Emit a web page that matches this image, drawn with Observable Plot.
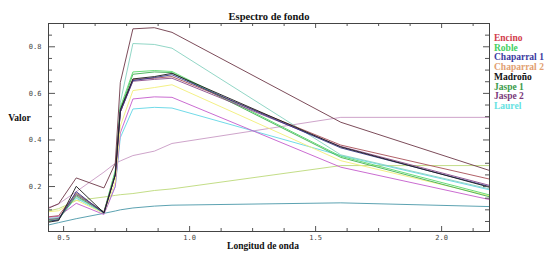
<!DOCTYPE html>
<html><head><meta charset="utf-8">
<script src="https://cdn.jsdelivr.net/npm/d3@7"></script>
<script src="https://cdn.jsdelivr.net/npm/@observablehq/plot@0.6"></script>
<style>body{margin:0;background:#fff} #c{width:550px;height:261px}</style>
</head><body><div id="c"></div><script>
// wavelength (µm) at which each spectrum is sampled
const wavelengths = [0.44, 0.48, 0.55, 0.66, 0.705, 0.725, 0.775, 0.86, 0.93, 1.6, 2.19];

// spectra (Valor)
const espTopMaroon  = [0.107, 0.126, 0.237, 0.194, 0.30, 0.647, 0.877, 0.882, 0.862, 0.476, 0.269];
const espTealLight  = [0.062, 0.066, 0.155, 0.088, 0.26, 0.56, 0.814, 0.81, 0.794, 0.336, 0.19];
const espRoble      = [0.056, 0.062, 0.168, 0.092, 0.27, 0.54, 0.692, 0.698, 0.694, 0.33, 0.164];
const espJaspe1     = [0.052, 0.058, 0.16, 0.088, 0.26, 0.53, 0.682, 0.692, 0.689, 0.325, 0.156];
const espBrown      = [0.07, 0.075, 0.172, 0.09, 0.25, 0.52, 0.66, 0.665, 0.672, 0.378, 0.232];
const espJaspe2     = [0.058, 0.063, 0.165, 0.09, 0.25, 0.52, 0.652, 0.66, 0.665, 0.372, 0.205];
const espChaparral1 = [0.05, 0.057, 0.178, 0.085, 0.25, 0.52, 0.655, 0.668, 0.68, 0.366, 0.2];
const espMadrono    = [0.047, 0.054, 0.201, 0.087, 0.25, 0.53, 0.662, 0.672, 0.686, 0.37, 0.197];
const espYellow     = [0.092, 0.096, 0.142, 0.085, 0.22, 0.46, 0.612, 0.625, 0.637, 0.311, 0.16];
const espMagenta    = [0.068, 0.072, 0.128, 0.08, 0.2, 0.43, 0.576, 0.585, 0.583, 0.283, 0.144];
const espCyan       = [0.062, 0.066, 0.15, 0.085, 0.2, 0.41, 0.533, 0.54, 0.537, 0.333, 0.186];
const espMauve      = [0.11, 0.125, 0.178, 0.262, 0.3, 0.31, 0.333, 0.352, 0.385, 0.497, 0.497];
const espYellowGreen= [0.095, 0.105, 0.14, 0.155, 0.162, 0.165, 0.17, 0.183, 0.19, 0.29, 0.29];
const espTealBlue   = [0.035, 0.045, 0.062, 0.085, 0.095, 0.1, 0.108, 0.116, 0.12, 0.13, 0.114];

const seriesValues = [espMauve, espYellowGreen, espTealBlue, espCyan, espMagenta, espYellow,
  espTealLight, espJaspe1, espRoble, espBrown, espJaspe2, espChaparral1, espMadrono, espTopMaroon];
const seriesColors = ["#c99ac4", "#bcd97a", "#4a98a8", "#62d6e6", "#c45ccc", "#f2ee78",
  "#86d2c0", "#3fae52", "#58d86a", "#a85058", "#8a4a8a", "#34348a", "#1a1a1a", "#6e3848"];

const legendNames = ["Encino", "Roble", "Chaparral 1", "Chaparral 2", "Madroño", "Jaspe 1", "Jaspe 2", "Laurel"];
const legendColors = ["#d23c4c", "#44d060", "#3a3aa0", "#e2a070", "#111111", "#3a9a4a", "#7a3a7a", "#66e2e2"];

const xMajor = [0.5, 1.0, 1.5, 2.0];
const xMinor = [0.625, 0.75, 0.875, 1.125, 1.25, 1.375, 1.625, 1.75, 1.875, 2.125];
const yMajor = [0.2, 0.4, 0.6, 0.8];
const yMinor = [0.05, 0.1, 0.15, 0.25, 0.3, 0.35, 0.45, 0.5, 0.55, 0.65, 0.7, 0.75, 0.85];

const W = 550, H = 261, mL = 48, mR = 61, mT = 23, mB = 30;
const iW = W - mL - mR, iH = H - mT - mB;

const lineMarks = seriesValues.map((vals, i) =>
  Plot.line(wavelengths.map((w, j) => ({w, v: vals[j]})),
    {x: "w", y: "v", stroke: seriesColors[i], strokeWidth: 1, strokeOpacity: 0.9}));

const tickStroke = "#555";
const chart = Plot.plot({
  width: W, height: H,
  marginLeft: mL, marginRight: mR, marginTop: mT, marginBottom: mB,
  x: {domain: [0.44, 2.19]},
  y: {domain: [0.007, 0.9]},
  style: {fontFamily: "Liberation Serif", background: "#fff"},
  marks: [
    ...lineMarks,
    // inward ticks
    Plot.ruleX(xMajor, {insetTop: iH - 5, stroke: tickStroke}),
    Plot.ruleX(xMinor, {insetTop: iH - 3, stroke: tickStroke}),
    Plot.ruleX(xMajor, {insetBottom: iH - 5, stroke: tickStroke}),
    Plot.ruleX(xMinor, {insetBottom: iH - 3, stroke: tickStroke}),
    Plot.ruleY(yMajor, {insetRight: iW - 7, stroke: tickStroke}),
    Plot.ruleY(yMinor, {insetRight: iW - 4, stroke: tickStroke}),
    Plot.ruleY(yMajor, {insetLeft: iW - 6, stroke: tickStroke}),
    Plot.ruleY(yMinor, {insetLeft: iW - 4, stroke: tickStroke}),
    Plot.frame({stroke: "#444"}),
    Plot.axisX(xMajor, {tickSize: 0, tickPadding: 4, tickFormat: d => d.toFixed(1),
      fontFamily: "DejaVu Sans Mono", fontSize: 7, fill: "#444", label: null}),
    Plot.axisY(yMajor, {tickSize: 0, tickPadding: 7, tickFormat: d => d.toFixed(1),
      fontFamily: "DejaVu Sans Mono", fontSize: 7, fill: "#444", label: null}),
    Plot.text(["Espectro de fondo"], {frameAnchor: "top", dy: -11, fontWeight: "bold", fontSize: 10.5, fill: "#111"}),
    Plot.text(["Valor"], {frameAnchor: "left", dx: -29, dy: -10, textAnchor: "middle", fontWeight: "bold", fontSize: 9.5, fill: "#111"}),
    Plot.text(["Longitud de onda"], {frameAnchor: "bottom", dy: 17, dx: -6, fontWeight: "bold", fontSize: 9.5, fill: "#111"})
  ]
});
document.getElementById("c").appendChild(chart);

// legend to the right of the frame
const svg = d3.select(chart);
const lg = svg.append("g").attr("text-anchor", "start");
legendNames.forEach((name, i) => {
  lg.append("text")
    .attr("x", W - mR + 5).attr("y", 41 + i * 9.7)
    .attr("text-anchor", "start")
    .attr("font-family", "Liberation Serif").attr("font-weight", "bold").attr("font-size", 9.5)
    .attr("fill", legendColors[i]).text(name);
});
</script></body></html>
